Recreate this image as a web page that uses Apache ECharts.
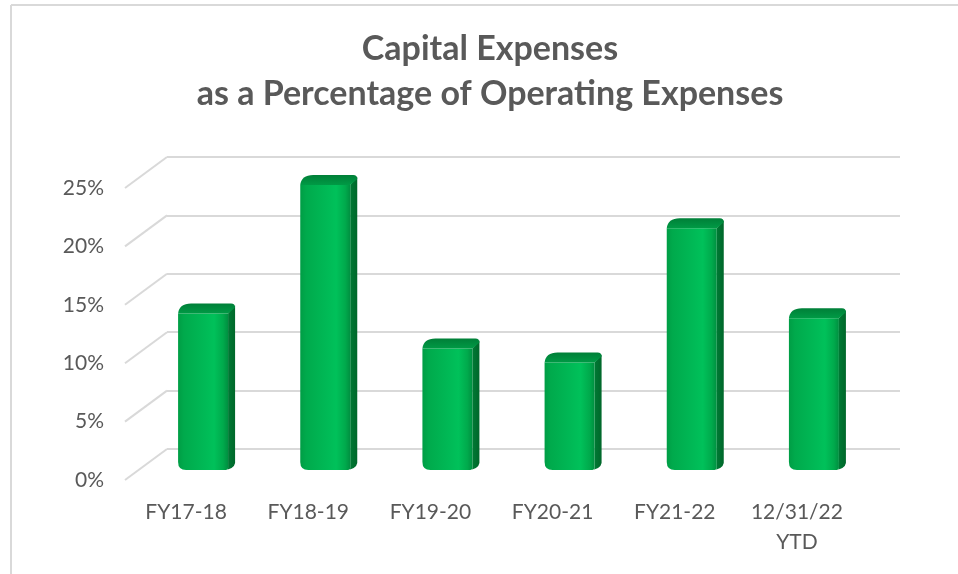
<!DOCTYPE html>
<html>
<head>
<meta charset="utf-8">
<script src="https://cdn.jsdelivr.net/npm/echarts@6/dist/echarts.min.js"></script>
<style>
  html, body { margin: 0; padding: 0; background: #ffffff; }
  #chart { width: 958px; height: 574px; }
</style>
</head>
<body>
<div id="chart"></div>
<script>
// Fiscal-year categories and capital expense share (% of operating expenses)
const categories = ['FY17-18', 'FY18-19', 'FY19-20', 'FY20-21', 'FY21-22', '12/31/22\nYTD'];
const capexPct = [13.4, 24.4, 10.4, 9.2, 20.7, 13.0];
const yTicks = [0, 5, 10, 15, 20, 25];
const yMin = 0, yMax = 25, yStep = 5;

// Layout of the pseudo-3D box: front plane and its depth offset to the back wall
const FRONT = { left: 125, right: 100, top: 188, bottom: 94 };
const DEPTH = [42, -31];
const BAR_SHIFT = [17, -10];   // columns sit partway into the box
const BAR_HALF = 25;           // half width of a column's front face
const BAR_SIDE = [7, -10];     // column's own depth (side face / cap)

const TEXT = '#595959';
const GRID = '#d9d9d9';
const FONT = 'Lato';

const chart = echarts.init(document.getElementById('chart'), null, { renderer: 'canvas' });

function barItem(params, api) {
  const i = api.value(0);
  const v = api.value(1);
  const top = api.coord([i, v]);
  const base = api.coord([i, 0]);
  const cx = top[0] + BAR_SHIFT[0];
  const yt = top[1] + BAR_SHIFT[1];
  const yb = base[1] + BAR_SHIFT[1];
  const xl = cx - BAR_HALF, xr = cx + BAR_HALF;
  const sx = BAR_SIDE[0], sy = BAR_SIDE[1];
  const r = 8;

  const front = {
    type: 'path',
    shape: {
      pathData:
        'M' + xl + ' ' + yt +
        'L' + xr + ' ' + yt +
        'L' + xr + ' ' + (yb - 2) +
        'Q' + xr + ' ' + yb + ' ' + (xr - 4) + ' ' + yb +
        'L' + (xl + r) + ' ' + yb +
        'Q' + xl + ' ' + yb + ' ' + xl + ' ' + (yb - r) + 'Z'
    },
    style: {
      fill: new echarts.graphic.LinearGradient(0, 0, 1, 0, [
        { offset: 0, color: '#009d45' },
        { offset: 0.12, color: '#00aa4c' },
        { offset: 0.5, color: '#00b855' },
        { offset: 0.72, color: '#00c15a' },
        { offset: 0.9, color: '#00aa4c' },
        { offset: 1, color: '#008f40' }
      ])
    }
  };
  const side = {
    type: 'path',
    shape: {
      pathData:
        'M' + xr + ' ' + yt +
        'L' + (xr + sx) + ' ' + (yt + sy + 2) +
        'L' + (xr + sx) + ' ' + (yb + sy + 3) +
        'Q' + (xr + sx - 1) + ' ' + (yb - 1) + ' ' + (xr - 4) + ' ' + yb +
        'Q' + xr + ' ' + yb + ' ' + xr + ' ' + (yb - 2) + 'Z'
    },
    style: {
      fill: new echarts.graphic.LinearGradient(0, 0, 1, 0, [
        { offset: 0, color: '#00843a' },
        { offset: 1, color: '#00672a' }
      ])
    }
  };
  const cap = {
    type: 'path',
    shape: {
      pathData:
        'M' + xl + ' ' + yt +
        'Q' + (xl + 1) + ' ' + (yt + sy) + ' ' + (xl + sx + 6) + ' ' + (yt + sy) +
        'L' + (xr + sx - 4) + ' ' + (yt + sy) +
        'Q' + (xr + sx) + ' ' + (yt + sy) + ' ' + (xr + sx) + ' ' + (yt + sy + 4) +
        'L' + xr + ' ' + yt + 'Z'
    },
    style: {
      fill: new echarts.graphic.LinearGradient(0, 0, 0, 1, [
        { offset: 0, color: '#007f38' },
        { offset: 1, color: '#009a45' }
      ])
    }
  };
  return { type: 'group', children: [side, front, cap] };
}

function depthLine(params, api) {
  const p = api.coord([0, api.value(1)]);
  const x0 = params.coordSys.x;
  return {
    type: 'line',
    shape: { x1: x0, y1: p[1], x2: x0 + DEPTH[0], y2: p[1] + DEPTH[1] },
    style: { stroke: GRID, lineWidth: 2 }
  };
}

const option = {
  backgroundColor: '#ffffff',
  animation: false,
  title: {
    text: 'Capital Expenses\nas a Percentage of Operating Expenses',
    left: 485,
    top: 22,
    textAlign: 'center',
    textStyle: {
      fontFamily: FONT, fontWeight: 'bold', fontSize: 34,
      color: TEXT, lineHeight: 45
    }
  },
  graphic: [
    { type: 'line', shape: { x1: 11, y1: 5, x2: 958, y2: 5 }, style: { stroke: GRID, lineWidth: 2 } },
    { type: 'line', shape: { x1: 11, y1: 5, x2: 11, y2: 574 }, style: { stroke: GRID, lineWidth: 2 } }
  ],
  grid: [
    { // back wall
      left: FRONT.left + DEPTH[0], right: FRONT.right - DEPTH[0],
      top: FRONT.top + DEPTH[1], bottom: FRONT.bottom - DEPTH[1]
    },
    { // front plane
      left: FRONT.left, right: FRONT.right, top: FRONT.top, bottom: FRONT.bottom
    }
  ],
  xAxis: [
    { type: 'category', gridIndex: 0, data: categories, show: false },
    {
      type: 'category', gridIndex: 1, data: categories,
      axisLine: { show: false }, axisTick: { show: false },
      axisLabel: {
        color: TEXT, fontFamily: FONT, fontSize: 21, margin: 17,
        lineHeight: 30, interval: 0
      }
    }
  ],
  yAxis: [
    {
      type: 'value', gridIndex: 0, min: yMin, max: yMax, interval: yStep,
      axisLabel: { show: false }, axisLine: { show: false }, axisTick: { show: false },
      splitLine: { lineStyle: { color: GRID, width: 2 } }
    },
    {
      type: 'value', gridIndex: 1, min: yMin, max: yMax, interval: yStep,
      axisLine: { show: false }, axisTick: { show: false }, splitLine: { show: false },
      axisLabel: {
        color: TEXT, fontFamily: FONT, fontSize: 21, margin: 21,
        formatter: '{value}%'
      }
    }
  ],
  series: [
    {
      type: 'custom', name: 'depth', xAxisIndex: 1, yAxisIndex: 1,
      renderItem: depthLine, silent: true, clip: false, z: 1,
      encode: { x: 0, y: 1 },
      data: yTicks.map(v => [0, v])
    },
    {
      type: 'custom', name: 'Capital Expenses %', xAxisIndex: 1, yAxisIndex: 1,
      renderItem: barItem, clip: false, z: 3,
      encode: { x: 0, y: 1 },
      data: capexPct.map((v, i) => [i, v])
    }
  ]
};
chart.setOption(option);
</script>
</body>
</html>
